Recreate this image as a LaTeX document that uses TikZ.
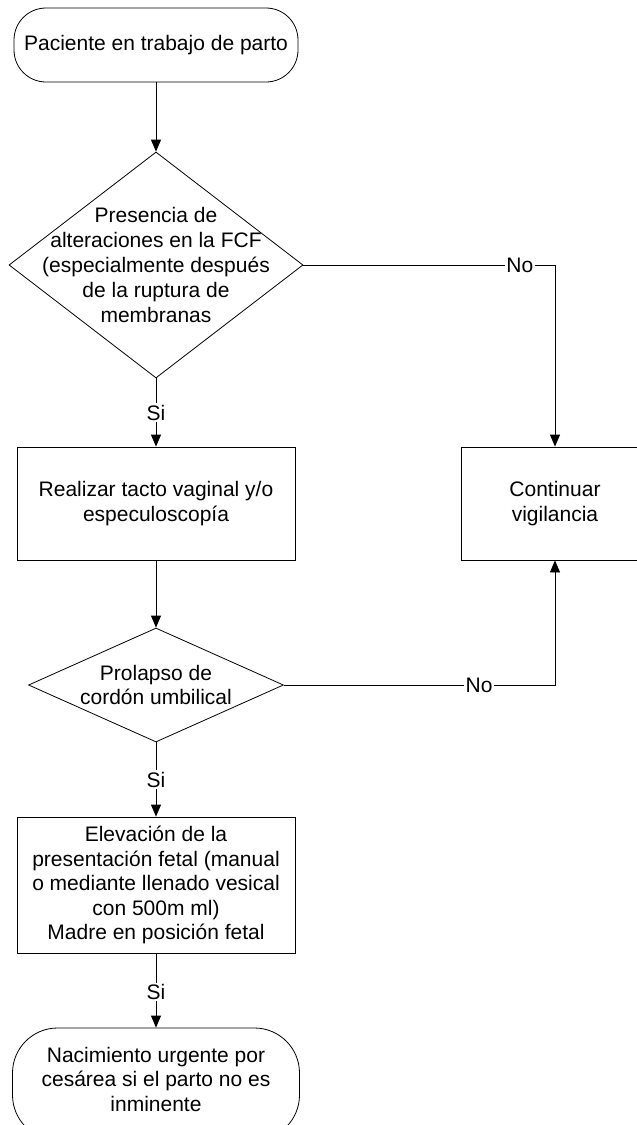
\documentclass[tikz,border=0pt]{standalone}
\usepackage{fontspec}
\setmainfont{Liberation Sans}
\usetikzlibrary{shapes.geometric,arrows.meta}
\begin{document}
\begin{tikzpicture}[x=1pt,y=-1pt,
  every node/.style={font=\fontsize{21}{24.5}\selectfont},
  base/.style={draw=black,line width=0.8pt,align=center,inner sep=0pt},
  term/.style={base,rounded corners=32pt},
  proc/.style={base,rectangle},
  dec/.style={base,diamond},
  arr/.style={draw=black,line width=0.8pt,-{Triangle[length=12pt,width=10pt]}},
  conn/.style={draw=black,line width=0.8pt},
  lbl/.style={fill=white,inner sep=1.5pt}]
\useasboundingbox (0,0) rectangle (637,1125);
\clip (0,0) rectangle (637,1125);
\fill[white] (0,0) rectangle (637,1125);

\node[term,minimum width=284pt,minimum height=74pt] (start) at (156,45) {Paciente en trabajo de parto};
\node[dec,minimum width=294pt,minimum height=226pt,
  label={[align=center,font=\fontsize{21}{25}\selectfont]center:Presencia de\\alteraciones en la FCF\\(especialmente después\\de la ruptura de\\membranas}] (d1) at (156,265) {};
\node[proc,minimum width=278pt,minimum height=113pt] (r1) at (156,503.5) {Realizar tacto vaginal y/o\\especuloscopía};
\node[proc,minimum width=188pt,minimum height=113pt] (cont) at (555,503.5) {Continuar\\vigilancia};
\node[dec,minimum width=255pt,minimum height=114pt,
  label={[align=center,font=\fontsize{21}{24}\selectfont]center:Prolapso de\\cordón umbilical}] (d2) at (156,685) {};
\node[proc,minimum width=278pt,minimum height=136pt] (r3) at (156,885) {Elevación de la\\presentación fetal (manual\\o mediante llenado vesical\\con 500m ml)\\Madre en posición fetal};
\node[term,rounded corners=45pt,minimum width=287pt,minimum height=112pt,
  label={[align=center,font=\fontsize{21}{24.5}\selectfont,yshift=5pt]center:Nacimiento urgente por\\cesárea si el parto no es\\inminente}] (end) at (156,1084) {};

\draw[arr] (start.south) -- (d1.north);
\draw[arr] (d1.south) -- node[lbl] (s1) {Si} (r1.north);
\draw[arr] (d1.east) -| node[lbl,pos=0.43] (n1) {No} (cont.north);
\draw[arr] (r1.south) -- (d2.north);
\draw[arr] (d2.east) -| node[lbl,pos=0.36] (n2) {No} (cont.south);
\draw[arr] (d2.south) -- node[lbl] (s2) {Si} (r3.north);
\draw[arr] (r3.south) -- node[lbl,pos=0.52] (s3) {Si} (end.north);
\end{tikzpicture}
\end{document}
